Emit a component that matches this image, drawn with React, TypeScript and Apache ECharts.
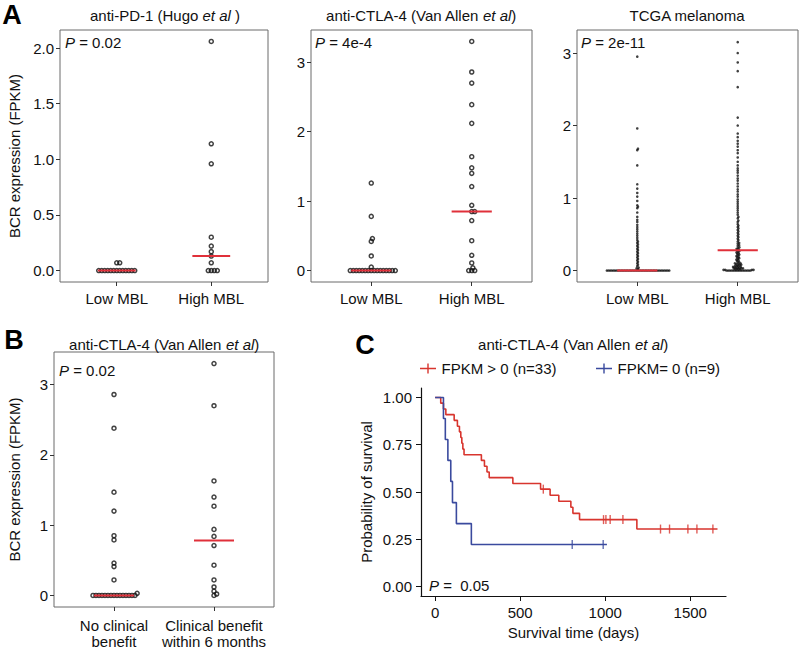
import React, { useEffect, useRef } from "react";
import * as echarts from "echarts";

const FONT = '"Liberation Sans", Arial, Helvetica, sans-serif';

// ---------- Data ----------
const MBL_CATS = ["Low MBL", "High MBL"];
const BENEFIT_CATS = ["No clinical\nbenefit", "Clinical benefit\nwithin 6 months"];

// A1: anti-PD-1 (Hugo et al)
const pd1Low = [0.07, 0.07, 0, 0, 0, 0, 0, 0, 0, 0, 0, 0, 0, 0, 0];
const pd1High = [2.06, 1.14, 0.96, 0.3, 0.22, 0.17, 0.13, 0.07, 0, 0, 0, 0];
const pd1Median = [0, 0.13];

// A2: anti-CTLA-4 (Van Allen et al), by MBL
const ctlaLow = [1.26, 0.78, 0.46, 0.42, 0.21, 0.05, 0, 0, 0, 0, 0, 0, 0, 0, 0, 0, 0, 0, 0, 0, 0, 0];
const ctlaHigh = [3.3, 2.86, 2.7, 2.39, 2.12, 1.64, 1.48, 1.4, 1.21, 0.94, 0.85, 0.85, 0.72, 0.43, 0.22, 0.11, 0.04, 0, 0, 0];
const ctlaMedian = [0, 0.85];

// A3: TCGA melanoma
const tcgaLow = [
  2.95, 1.96, 1.68, 1.66, 1.45, 1.19, 1.13, 1.07, 1.02, 0.96, 0.9, 0.88, 0.86, 0.8, 0.74, 0.7, 0.67,
  0.63, 0.6, 0.57, 0.54, 0.51, 0.48, 0.45, 0.42, 0.4, 0.38, 0.36, 0.34, 0.32, 0.3, 0.28, 0.26, 0.24,
  0.22, 0.2, 0.18, 0.16, 0.14, 0.12, 0.1, 0.08, 0.06, 0.04, 0.03, 0.02,
  0, 0, 0, 0, 0, 0, 0, 0, 0, 0, 0, 0, 0, 0, 0, 0, 0, 0, 0, 0,
  0, 0, 0, 0, 0, 0, 0, 0, 0, 0, 0, 0, 0, 0, 0, 0, 0, 0, 0, 0,
];
const tcgaHigh = [
  3.15, 3.0, 2.87, 2.75, 2.53, 2.11, 2.0, 1.89, 1.84, 1.79, 1.75, 1.71, 1.66, 1.62, 1.56, 1.5, 1.45,
  1.41, 1.38, 1.35, 1.31, 1.27, 1.24, 1.2, 1.16, 1.12, 1.09, 1.05, 1.02, 0.98, 0.95, 0.92, 0.89, 0.86,
  0.83, 0.8, 0.77, 0.74, 0.72, 0.69, 0.67, 0.64, 0.62, 0.6, 0.58, 0.56, 0.54, 0.52, 0.5, 0.48, 0.46,
  0.44, 0.42, 0.4, 0.38, 0.37, 0.35, 0.34, 0.32, 0.31, 0.3, 0.29, 0.28, 0.27, 0.26, 0.25, 0.24, 0.23,
  0.22, 0.21, 0.2, 0.19, 0.18, 0.17, 0.16, 0.15, 0.14, 0.13, 0.12, 0.11, 0.1, 0.1, 0.09, 0.09, 0.08,
  0.08, 0.07, 0.07, 0.06, 0.06, 0.05, 0.05, 0.05, 0.04, 0.04, 0.04, 0.03, 0.03, 0.03, 0.02, 0.02,
  0.02, 0.02, 0.01, 0.01, 0.01, 0.01,
  0, 0, 0, 0, 0, 0, 0, 0, 0, 0, 0, 0, 0, 0, 0, 0,
];
const tcgaMedian = [0, 0.28];

// B: anti-CTLA-4 by clinical benefit
const benefitNo = [2.86, 2.38, 1.47, 1.2, 0.85, 0.79, 0.46, 0.41, 0.22, 0.03, 0, 0, 0, 0, 0, 0, 0, 0, 0, 0, 0, 0, 0, 0, 0];
const benefitYes = [3.3, 2.7, 1.63, 1.4, 1.27, 0.94, 0.84, 0.71, 0.43, 0.22, 0.12, 0.06, 0.02, 0];
const benefitMedian = [0, 0.78];

// C: Kaplan-Meier (days, survival probability)
const redTimes = [0, 33, 49, 63, 112, 131, 143, 151, 157, 163, 170, 272, 290, 305, 318, 457, 620, 676, 727, 798, 810, 849, 1186, 1660];
const redSurv = [1, 0.97, 0.939, 0.909, 0.879, 0.848, 0.818, 0.788, 0.758, 0.727, 0.697, 0.667, 0.636, 0.606, 0.576, 0.545, 0.515, 0.483, 0.451, 0.419, 0.387, 0.354, 0.304, 0.304];
const redCensor = [636, 990, 1004, 1029, 1104, 1325, 1378, 1486, 1539, 1633];
const blueTimes = [0, 49, 60, 75, 92, 102, 125, 213, 1010];
const blueSurv = [1, 0.889, 0.778, 0.667, 0.556, 0.444, 0.333, 0.222, 0.222];
const blueCensor = [806, 988];

const A_Y_TICKS_PD1 = [0, 0.5, 1, 1.5, 2];
const A_Y_TICKS_INT = [0, 1, 2, 3];
const C_X_TICKS = [0, 500, 1000, 1500];
const C_Y_TICKS = [0, 0.25, 0.5, 0.75, 1];
const CAT_TICKS = [1, 2];

// ---------- Layout ----------
const G = [
  { left: 60, top: 30, width: 208, height: 252, ymin: -0.103, ymax: 2.163 },
  { left: 311, top: 30, width: 221, height: 252, ymin: -0.165, ymax: 3.465 },
  { left: 577, top: 30, width: 221, height: 252, ymin: -0.158, ymax: 3.318 },
  { left: 54, top: 352, width: 220, height: 255, ymin: -0.165, ymax: 3.465 },
  { left: 421, top: 388, width: 305, height: 208, xmin: -83, xmax: 1710, ymin: -0.05, ymax: 1.05 },
];
const XMIN = 0.4;
const XMAX = 2.6;

const RED = "#d8352e";
const BLUE = "#3a4a9e";
const MED = "#e0303a";

function swarm(values: number[], center: number, kx: number, ky: number, d: number) {
  const sorted = [...values].sort((a, b) => a - b);
  const placed: { x: number; y: number }[] = [];
  const out: number[][] = [];
  for (const v of sorted) {
    const y = v * ky;
    const near = placed.filter((p) => Math.abs(p.y - y) < d);
    const cands = [0];
    for (const p of near) {
      const w = Math.sqrt(d * d - (p.y - y) * (p.y - y));
      cands.push(p.x + w, p.x - w);
    }
    cands.sort((a, b) => Math.abs(a) - Math.abs(b) || b - a);
    let best = 0;
    for (const c of cands) {
      if (near.every((p) => (p.x - c) ** 2 + (p.y - y) ** 2 >= d * d - 1e-6)) {
        best = c;
        break;
      }
    }
    placed.push({ x: best, y });
    out.push([center + best / kx, v]);
  }
  return out;
}

function stepAt(times: number[], surv: number[], t: number) {
  let s = surv[0];
  for (let i = 0; i < times.length; i++) if (times[i] <= t) s = surv[i];
  return s;
}

function rich(parts: [string, boolean][], size = 15) {
  const text = parts.map(([s, it]) => `{${it ? "i" : "n"}|${s}}`).join("");
  return {
    text,
    rich: {
      n: { fontSize: size, fontFamily: FONT, fill: "#111" },
      i: { fontSize: size, fontFamily: FONT, fontStyle: "italic", fill: "#111" },
    },
  };
}

function textEl(x: number, y: number, parts: [string, boolean][], align = "center") {
  return { type: "text", x, y, silent: true, style: { ...rich(parts), align, verticalAlign: "middle" } };
}

function letterEl(x: number, y: number, t: string) {
  return {
    type: "text",
    x,
    y,
    style: { text: t, fontSize: 27, fontWeight: "bold", fontFamily: FONT, fill: "#000", align: "center", verticalAlign: "middle" },
  };
}

export default function App() {
  const ref = useRef<HTMLDivElement>(null);
  useEffect(() => {
    document.body.style.margin = "0";
    if (!ref.current) return;
    const chart = echarts.init(ref.current, undefined, { renderer: "svg" });

    const labelStyle = { fontSize: 15, color: "#111", fontFamily: FONT };
    const grids = G.map((g, i) => ({
      left: g.left,
      top: g.top,
      width: g.width,
      height: g.height,
      show: i < 4,
      borderColor: "#6a6a6a",
      borderWidth: 1,
      backgroundColor: "transparent",
    }));

    const xAxes: any[] = [];
    const yAxes: any[] = [];
    const series: any[] = [];

    const scatterPanels = [
      { cats: MBL_CATS, groups: [pd1Low, pd1High], med: pd1Median, ticks: A_Y_TICKS_PD1, fmt: (v: number) => v.toFixed(1), name: "BCR expression (FPKM)", gap: 38, dense: false },
      { cats: MBL_CATS, groups: [ctlaLow, ctlaHigh], med: ctlaMedian, ticks: A_Y_TICKS_INT, fmt: (v: number) => String(v), name: "", gap: 0, dense: false },
      { cats: MBL_CATS, groups: [tcgaLow, tcgaHigh], med: tcgaMedian, ticks: A_Y_TICKS_INT, fmt: (v: number) => String(v), name: "", gap: 0, dense: true },
      { cats: BENEFIT_CATS, groups: [benefitNo, benefitYes], med: benefitMedian, ticks: A_Y_TICKS_INT, fmt: (v: number) => String(v), name: "BCR expression (FPKM)", gap: 32, dense: false },
    ];

    scatterPanels.forEach((p, i) => {
      const g = G[i];
      const kx = g.width / (XMAX - XMIN);
      const ky = g.height / (g.ymax - g.ymin);
      xAxes.push({
        type: "value",
        gridIndex: i,
        min: XMIN,
        max: XMAX,
        axisLine: { show: false, onZero: false },
        splitLine: { show: false },
        axisTick: { show: true, length: 4, lineStyle: { color: "#333" }, customValues: CAT_TICKS },
        axisLabel: {
          ...labelStyle,
          margin: i === 3 ? 10 : 8,
          lineHeight: 16,
          customValues: CAT_TICKS,
          formatter: (v: number) => p.cats[Math.round(v) - 1] ?? "",
        },
      });
      yAxes.push({
        type: "value",
        gridIndex: i,
        min: g.ymin,
        max: g.ymax,
        axisLine: { show: false, onZero: false },
        splitLine: { show: false },
        axisTick: { show: true, length: 4, lineStyle: { color: "#333" }, customValues: p.ticks },
        axisLabel: { ...labelStyle, margin: 6, customValues: p.ticks, formatter: p.fmt },
        name: p.name,
        nameLocation: "middle",
        nameGap: p.gap,
        nameRotate: 90,
        nameTextStyle: { fontSize: 15, color: "#111", fontFamily: FONT },
      });
      p.groups.forEach((vals, gi) => {
        const center = gi + 1;
        series.push({
          type: "scatter",
          xAxisIndex: i,
          yAxisIndex: i,
          data: swarm(vals, center, kx, ky, p.dense ? 1.6 : 3.0),
          symbol: "circle",
          symbolSize: p.dense ? 2.6 : 4,
          itemStyle: p.dense
            ? { color: "#111" }
            : { color: "rgba(255,255,255,0)", borderColor: "#111", borderWidth: 1.5 },
          silent: true,
          z: 2,
        });
        series.push({
          type: "line",
          xAxisIndex: i,
          yAxisIndex: i,
          data: [
            [center - 0.2, p.med[gi]],
            [center + 0.2, p.med[gi]],
          ],
          symbol: "none",
          lineStyle: { color: MED, width: 2 },
          silent: true,
          z: 3,
        });
      });
    });

    // Panel C
    const gc = G[4];
    xAxes.push({
      type: "value",
      gridIndex: 4,
      min: gc.xmin,
      max: gc.xmax,
      axisLine: { show: true, onZero: false, lineStyle: { color: "#111", width: 1.2 } },
      splitLine: { show: false },
      axisTick: { show: true, length: 5, lineStyle: { color: "#111" }, customValues: C_X_TICKS },
      axisLabel: { ...labelStyle, margin: 9, customValues: C_X_TICKS, formatter: (v: number) => String(v) },
      name: "Survival time (days)",
      nameLocation: "middle",
      nameGap: 29,
      nameTextStyle: { fontSize: 15, color: "#111", fontFamily: FONT },
    });
    yAxes.push({
      type: "value",
      gridIndex: 4,
      min: gc.ymin,
      max: gc.ymax,
      axisLine: { show: true, onZero: false, lineStyle: { color: "#111", width: 1.2 } },
      splitLine: { show: false },
      axisTick: { show: true, length: 5, lineStyle: { color: "#111" }, customValues: C_Y_TICKS },
      axisLabel: { ...labelStyle, margin: 9, customValues: C_Y_TICKS, formatter: (v: number) => v.toFixed(2) },
      name: "Probability of survival",
      nameLocation: "middle",
      nameGap: 47,
      nameRotate: 90,
      nameTextStyle: { fontSize: 15, color: "#111", fontFamily: FONT },
    });

    const RED_NAME = "FPKM > 0 (n=33)";
    const BLUE_NAME = "FPKM= 0 (n=9)";
    const kmSets = [
      { name: RED_NAME, color: RED, times: redTimes, surv: redSurv, censor: redCensor },
      { name: BLUE_NAME, color: BLUE, times: blueTimes, surv: blueSurv, censor: blueCensor },
    ];
    kmSets.forEach((k) => {
      series.push({
        type: "line",
        name: k.name,
        xAxisIndex: 4,
        yAxisIndex: 4,
        step: "end",
        data: k.times.map((t, i) => [t, k.surv[i]]),
        symbol: "none",
        lineStyle: { color: k.color, width: 1.6 },
        itemStyle: { color: k.color },
        silent: true,
      });
      series.push({
        type: "scatter",
        name: k.name,
        xAxisIndex: 4,
        yAxisIndex: 4,
        data: k.censor.map((t) => [t, stepAt(k.times, k.surv, t)]),
        symbol: "rect",
        symbolSize: [1.4, 9],
        itemStyle: { color: k.color },
        silent: true,
      });
    });

    const plusIcon = "path://M0,4.3H7.3V0H8.7V4.3H16V5.7H8.7V10H7.3V5.7H0Z";
    const legendBase = {
      orient: "horizontal",
      padding: 0,
      itemWidth: 17,
      itemHeight: 10,
      icon: plusIcon,
      textStyle: { fontSize: 15, color: "#111", fontFamily: FONT },
      selectedMode: false,
    };

    const graphic = [
      letterEl(12, 15, "A"),
      textEl(165, 15, [["anti-PD-1 (Hugo ", false], ["et al", true], [" )", false]]),
      textEl(421, 15, [["anti-CTLA-4 (Van Allen ", false], ["et al", true], [")", false]]),
      textEl(687, 15, [["TCGA melanoma", false]]),
      textEl(65, 42, [["P", true], [" = 0.02", false]], "left"),
      textEl(315, 42, [["P", true], [" = 4e-4", false]], "left"),
      textEl(581, 42, [["P", true], [" = 2e-11", false]], "left"),
      letterEl(14, 340, "B"),
      textEl(164, 344, [["anti-CTLA-4 (Van Allen ", false], ["et al", true], [")", false]]),
      textEl(59, 370, [["P", true], [" = 0.02", false]], "left"),
      letterEl(365, 345, "C"),
      textEl(573, 344, [["anti-CTLA-4 (Van Allen ", false], ["et al", true], [")", false]]),
      textEl(429, 585, [["P", true], [" =  0.05", false]], "left"),
    ];

    chart.setOption({
      animation: false,
      backgroundColor: "#ffffff",
      textStyle: { fontFamily: FONT },
      grid: grids,
      xAxis: xAxes,
      yAxis: yAxes,
      legend: [
        { ...legendBase, data: [RED_NAME], left: 420, top: 361 },
        { ...legendBase, data: [BLUE_NAME], left: 596, top: 361 },
      ],
      graphic,
      series,
    });
    return () => chart.dispose();
  }, []);
  return <div ref={ref} style={{ width: 800, height: 651 }} />;
}
